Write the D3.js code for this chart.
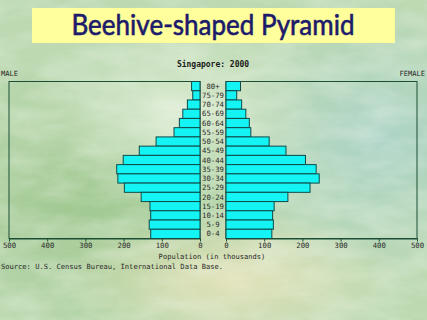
<!DOCTYPE html>
<html>
<head>
<meta charset="utf-8">
<script src="https://cdn.jsdelivr.net/npm/d3@7"></script>
<style>
  body { margin: 0; overflow: hidden; }
  svg { display: block; }
</style>
</head>
<body>
<div id="chart"></div>
<script>
const width = 427;
const height = 320;

// data (thousands)
const ageGroups = ["80+", "75-79", "70-74", "65-69", "60-64", "55-59", "50-54", "45-49",
    "40-44", "35-39", "30-34", "25-29", "20-24", "15-19", "10-14", "5-9", "0-4"];
const male   = [22, 19, 33, 45, 54, 68, 115, 159, 201, 218, 215, 198, 154, 131, 129, 133, 129];
const female = [38, 28, 41, 52, 61, 65, 113, 157, 208, 236, 244, 220, 162, 126, 122, 124, 120];
const tickValues = [0, 100, 200, 300, 400, 500];

const titleText = "Beehive-shaped Pyramid";
const chartTitle = "Singapore: 2000";
const xLabel = "Population (in thousands)";
const sourceText = "Source: U.S. Census Bureau, International Data Base.";

const plotTop = 81.5, plotBottom = 238.5;
const mono = "'DejaVu Sans Mono', monospace";
const smallSize = "7.1px";

const svg = d3.select("#chart")
    .append("svg")
    .attr("width", width)
    .attr("height", height);

// background - greenish marble
const defs = svg.append("defs");
function radial(id, stops) {
    const g = defs.append("radialGradient").attr("id", id);
    stops.forEach(s => g.append("stop").attr("offset", s[0]).attr("stop-color", s[1]).attr("stop-opacity", s[2]));
}
radial("spotA", [["0%", "#e6e2b8", 0.9], ["100%", "#e6e2b8", 0]]);
radial("spotB", [["0%", "#a9d2c8", 0.9], ["100%", "#a9d2c8", 0]]);
radial("spotC", [["0%", "#9cc68c", 0.9], ["100%", "#9cc68c", 0]]);
radial("spotD", [["0%", "#dcebd2", 0.9], ["100%", "#dcebd2", 0]]);

const f = defs.append("filter").attr("id", "marble").attr("x", 0).attr("y", 0).attr("width", "100%").attr("height", "100%");
f.append("feTurbulence").attr("type", "fractalNoise").attr("baseFrequency", "0.02 0.05").attr("numOctaves", 4).attr("seed", 3);
f.append("feColorMatrix").attr("type", "matrix")
    .attr("values", "0 0 0 0 0.95  0 0 0 0 0.98  0 0 0 0 0.92  0 0 0 -1.6 1.1");

svg.append("rect").attr("width", width).attr("height", height).attr("fill", "#bcd9b2");
svg.append("ellipse").attr("cx", 80).attr("cy", 200).attr("rx", 180).attr("ry", 150).attr("fill", "url(#spotC)");
svg.append("ellipse").attr("cx", 380).attr("cy", 140).attr("rx", 160).attr("ry", 140).attr("fill", "url(#spotB)");
svg.append("ellipse").attr("cx", 230).attr("cy", 280).attr("rx", 170).attr("ry", 70).attr("fill", "url(#spotA)");
svg.append("ellipse").attr("cx", 170).attr("cy", 110).attr("rx", 150).attr("ry", 90).attr("fill", "url(#spotD)");
svg.append("rect").attr("width", width).attr("height", height).attr("filter", "url(#marble)").attr("opacity", 0.35);

// title box
svg.append("rect")
    .attr("x", 32).attr("y", 8)
    .attr("width", 363).attr("height", 35)
    .attr("fill", "#ffff9c");
svg.append("text")
    .attr("x", 213).attr("y", 35)
    .attr("text-anchor", "middle")
    .attr("textLength", 283)
    .attr("lengthAdjust", "spacingAndGlyphs")
    .style("font-family", "Lato, 'Open Sans', sans-serif")
    .style("font-size", "28px")
    .style("fill", "#1c1a6a")
    .style("stroke", "#1c1a6a")
    .style("stroke-width", "0.6px")
    .text(titleText);

// scales
const y = d3.scaleBand().domain(ageGroups).range([plotTop, plotBottom]).paddingInner(0);
const xMale = d3.scaleLinear().domain([0, 500]).range([200, 9]);
const xFemale = d3.scaleLinear().domain([0, 500]).range([226, 417]);

const frameColor = "#1d4f36";

// frames
svg.append("rect")
    .attr("x", xMale(500)).attr("y", plotTop)
    .attr("width", xMale(0) - xMale(500)).attr("height", plotBottom - plotTop)
    .attr("fill", "none").attr("stroke", frameColor).attr("stroke-width", 1);
svg.append("rect")
    .attr("x", xFemale(0)).attr("y", plotTop)
    .attr("width", xFemale(500) - xFemale(0)).attr("height", plotBottom - plotTop)
    .attr("fill", "none").attr("stroke", frameColor).attr("stroke-width", 1);

// bars
svg.selectAll(".male")
    .data(ageGroups)
    .join("rect")
    .attr("class", "male")
    .attr("x", (d, i) => xMale(male[i]))
    .attr("y", d => y(d))
    .attr("width", (d, i) => xMale(0) - xMale(male[i]))
    .attr("height", y.bandwidth())
    .attr("fill", "#14f4f4")
    .attr("stroke", "#0e4a48")
    .attr("stroke-width", 1);

svg.selectAll(".female")
    .data(ageGroups)
    .join("rect")
    .attr("class", "female")
    .attr("x", xFemale(0))
    .attr("y", d => y(d))
    .attr("width", (d, i) => xFemale(female[i]) - xFemale(0))
    .attr("height", y.bandwidth())
    .attr("fill", "#14f4f4")
    .attr("stroke", "#0e4a48")
    .attr("stroke-width", 1);

// age labels
svg.selectAll(".age")
    .data(ageGroups)
    .join("text")
    .attr("class", "age")
    .attr("x", 213)
    .attr("y", d => y(d) + y.bandwidth() / 2 + 2.6)
    .attr("text-anchor", "middle")
    .style("font-family", mono)
    .style("font-size", "7.3px")
    .style("fill", "#2a2a2a")
    .text(d => d);

// axes
const axisStyle = g => {
    g.select(".domain").attr("stroke", frameColor);
    g.selectAll(".tick line").attr("stroke", frameColor);
    g.selectAll(".tick text")
        .style("font-family", mono)
        .style("font-size", "7.3px")
        .style("fill", "#2a2a2a");
};
svg.append("g")
    .attr("transform", `translate(0,${plotBottom})`)
    .call(d3.axisBottom(xMale).tickValues(tickValues).tickSize(3).tickPadding(1).tickSizeOuter(0))
    .call(axisStyle);
svg.append("g")
    .attr("transform", `translate(0,${plotBottom})`)
    .call(d3.axisBottom(xFemale).tickValues(tickValues).tickSize(3).tickPadding(1).tickSizeOuter(0))
    .call(axisStyle);

// texts
svg.append("text")
    .attr("x", 213).attr("y", 67)
    .attr("text-anchor", "middle")
    .style("font-family", mono)
    .style("font-size", "8px")
    .style("font-weight", "bold")
    .style("fill", "#1a1a1a")
    .text(chartTitle);
svg.append("text")
    .attr("x", 1).attr("y", 76)
    .style("font-family", mono)
    .style("font-size", smallSize)
    .style("fill", "#2a2a2a")
    .text("MALE");
svg.append("text")
    .attr("x", 425).attr("y", 76)
    .attr("text-anchor", "end")
    .style("font-family", mono)
    .style("font-size", smallSize)
    .style("fill", "#2a2a2a")
    .text("FEMALE");
svg.append("text")
    .attr("x", 212).attr("y", 259)
    .attr("text-anchor", "middle")
    .style("font-family", mono)
    .style("font-size", smallSize)
    .style("fill", "#2a2a2a")
    .text(xLabel);
svg.append("text")
    .attr("x", 1).attr("y", 269)
    .style("font-family", mono)
    .style("font-size", smallSize)
    .style("fill", "#2a2a2a")
    .text(sourceText);
</script>
</body>
</html>
